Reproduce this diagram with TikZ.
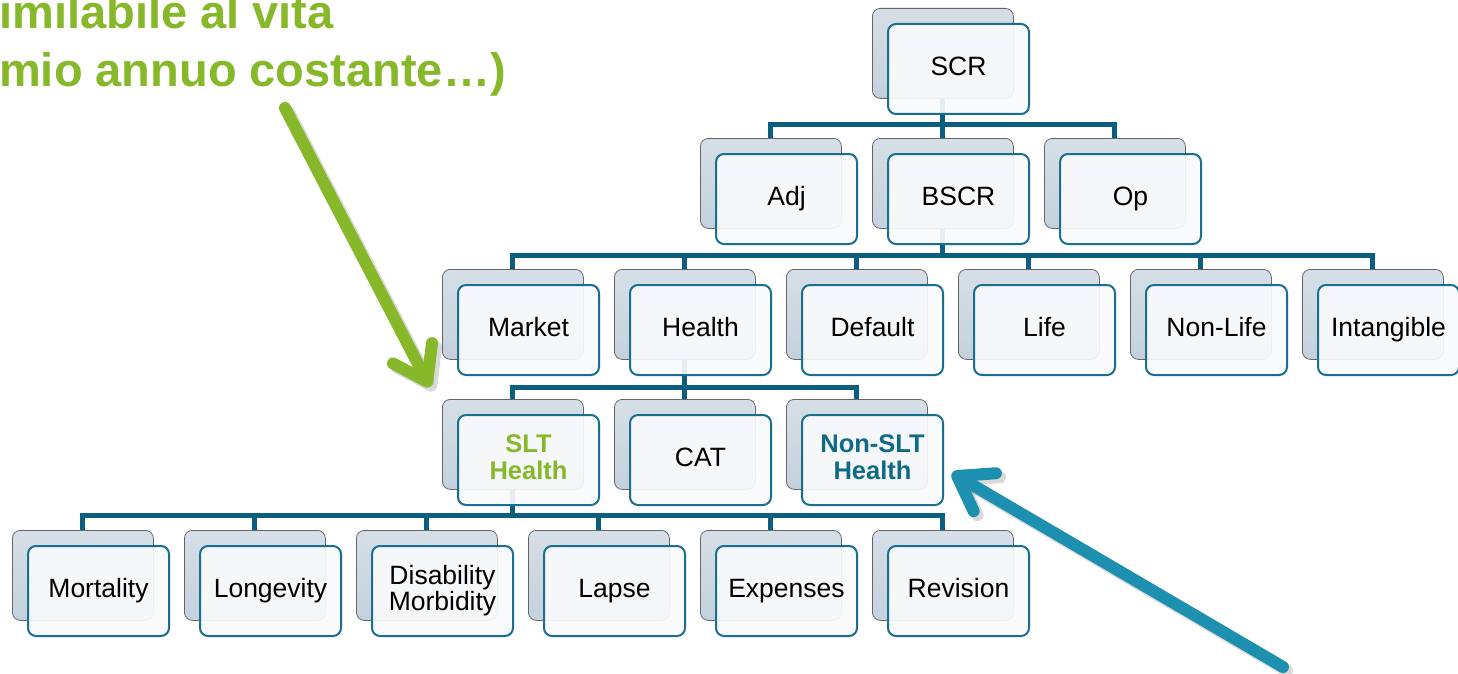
\documentclass[tikz,border=0pt]{standalone}
\usepackage{fontspec}
\setmainfont{Liberation Sans}
\usetikzlibrary{arrows.meta}
\definecolor{conncol}{HTML}{0B5E7E}
\definecolor{framecol}{HTML}{1A6F8E}
\definecolor{frontfill}{HTML}{F9FAFC}
\definecolor{backtop}{HTML}{D6DFE7}
\definecolor{backbot}{HTML}{C4D1DC}
\definecolor{greencol}{HTML}{86B82A}
\definecolor{tealtext}{HTML}{0F6A87}
\definecolor{bluearrow}{HTML}{1D8FAF}
\pgfdeclarelayer{bg}
\pgfsetlayers{bg,main}
\tikzset{
  backbox/.style={draw=black!60, line width=0.8pt, rounded corners=8pt,
    top color=backtop, bottom color=backbot, minimum width=141pt,
    minimum height=90pt, anchor=north west, inner sep=0pt},
  frontbox/.style={draw=framecol, line width=2pt, rounded corners=8pt,
    fill=frontfill, fill opacity=0.92, text opacity=1, minimum width=141pt,
    minimum height=90pt, anchor=north west, align=center, inner sep=0pt,
    font=\fontsize{26.5}{28}\selectfont},
  link/.style={draw=conncol, line width=5pt},
  boldgreen/.style={text=greencol, font=\fontsize{25.5}{27}\selectfont\bfseries},
  boldteal/.style={text=tealtext, font=\fontsize{25.5}{27}\selectfont\bfseries},
  callout/.style={line width=12pt, line cap=round,
    -{Straight Barb[round, length=32pt, width=44pt]}},
  calloutshadow/.style={line width=12pt, line cap=round, draw=black, opacity=0.15,
    -{Straight Barb[round, length=32pt, width=44pt]}},
  bigtext/.style={text=greencol, anchor=base west, inner sep=0pt,
    font=\fontsize{47}{50}\selectfont\bfseries}
}
\newcommand\riskunit[5]{%
  \node[backbox] (#1b) at (#2,#3) {};
  \node[frontbox,#5] (#1) at (#2+15,#3+15) {\vphantom{Ag}#4\vphantom{Ag}};
}
\begin{document}
\begin{tikzpicture}[x=1pt,y=-1pt]
\useasboundingbox (0,0) rectangle (1458,674);

% level 1
\riskunit{scr}{872}{8}{SCR}{}
% level 2
\riskunit{adj}{700}{138}{Adj}{}
\riskunit{bscr}{872}{138}{BSCR}{}
\riskunit{op}{1044}{138}{Op}{}
% level 3
\riskunit{market}{442}{269}{Market}{}
\riskunit{health}{614}{269}{Health}{}
\riskunit{default}{786}{269}{Default}{}
\riskunit{life}{958}{269}{Life}{}
\riskunit{nonlife}{1130}{269}{Non-Life}{}
\riskunit{intang}{1302}{269}{Intangible}{}
% level 4
\riskunit{slt}{442}{399}{SLT\\Health}{boldgreen}
\riskunit{cat}{614}{399}{CAT}{}
\riskunit{nonslt}{786}{399}{Non-SLT\\Health}{boldteal}
% level 5
\riskunit{mort}{12}{530}{Mortality}{}
\riskunit{longev}{184}{530}{Longevity}{}
\riskunit{disab}{356}{530}{Disability\\[-2pt]Morbidity}{}
\riskunit{lapse}{528}{530}{Lapse}{}
\riskunit{expen}{700}{530}{Expenses}{}
\riskunit{revis}{872}{530}{Revision}{}

\coordinate (bar1) at (0,125);
\coordinate (bar2) at (0,255);
\coordinate (bar3) at (0,387);
\coordinate (bar4) at (0,515);

\begin{pgfonlayer}{bg}
  \fill[white] (0,0) rectangle (1458,674);
  % SCR -> level 2
  \draw[link] (scrb.south) -- (scrb.south |- bar1);
  \draw[link] (adjb.north) -- (adjb.north |- bar1) -- (opb.north |- bar1) -- (opb.north);
  \draw[link] (bscrb.north) -- (bscrb.north |- bar1);
  % BSCR -> level 3
  \draw[link] (bscrb.south) -- (bscrb.south |- bar2);
  \draw[link] (marketb.north) -- (marketb.north |- bar2) -- (intangb.north |- bar2) -- (intangb.north);
  \draw[link] (healthb.north) -- (healthb.north |- bar2);
  \draw[link] (defaultb.north) -- (defaultb.north |- bar2);
  \draw[link] (lifeb.north) -- (lifeb.north |- bar2);
  \draw[link] (nonlifeb.north) -- (nonlifeb.north |- bar2);
  % Health -> level 4
  \draw[link] (healthb.south) -- (healthb.south |- bar3);
  \draw[link] (sltb.north) -- (sltb.north |- bar3) -- (nonsltb.north |- bar3) -- (nonsltb.north);
  \draw[link] (catb.north) -- (catb.north |- bar3);
  % SLT -> level 5
  \draw[link] (sltb.south) -- (sltb.south |- bar4);
  \draw[link] (mortb.north) -- (mortb.north |- bar4) -- (revisb.north |- bar4) -- (revisb.north);
  \draw[link] (longevb.north) -- (longevb.north |- bar4);
  \draw[link] (disabb.north) -- (disabb.north |- bar4);
  \draw[link] (lapseb.north) -- (lapseb.north |- bar4);
  \draw[link] (expenb.north) -- (expenb.north |- bar4);
\end{pgfonlayer}

% green text
\node[bigtext] (t1) at (-1,29) {imilabile al vita};
\node[bigtext] (t2) at (-1,87) {mio annuo costante…)};

% callout arrows
\coordinate (gs) at (285,108);
\coordinate (gt) at (430,387);
\coordinate (gss) at (289,112);
\coordinate (gts) at (434,391);
\draw[calloutshadow] (gss) -- (gts);
\draw[callout, draw=greencol] (gs) -- (gt);

\coordinate (bs) at (1283,667);
\coordinate (bt) at (952,473);
\coordinate (bss) at (1287,671);
\coordinate (bts) at (956,477);
\draw[calloutshadow] (bss) -- (bts);
\draw[callout, draw=bluearrow] (bs) -- (bt);
\end{tikzpicture}
\end{document}
